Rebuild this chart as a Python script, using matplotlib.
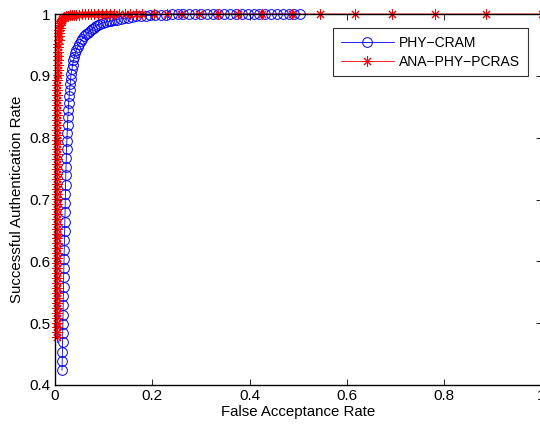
import matplotlib
matplotlib.use("Agg")
import matplotlib.pyplot as plt

plt.rcParams['font.family'] = ['Liberation Sans', 'DejaVu Sans']

# PHY-CRAM operating points (false acceptance rate, successful authentication rate)
cram_far = [0.0144, 0.0148, 0.0152, 0.0155, 0.0158, 0.0162, 0.0165, 0.0168, 0.0171, 0.0175,
            0.0178, 0.0182, 0.0186, 0.0190, 0.0194, 0.0198, 0.0202, 0.0206, 0.0210, 0.0214,
            0.0218, 0.0222, 0.0227, 0.0232, 0.0237, 0.0243, 0.0250, 0.0257, 0.0264, 0.0272,
            0.0280, 0.0290, 0.0300, 0.0310, 0.0320, 0.0330, 0.0350, 0.0360, 0.0380, 0.0400,
            0.0420, 0.0440, 0.0470, 0.0500, 0.0530, 0.0560, 0.0600, 0.0640, 0.0680, 0.0720,
            0.0760, 0.0800, 0.0840, 0.0880, 0.0930, 0.0980, 0.1040, 0.1100, 0.1160, 0.1220,
            0.1280, 0.1350, 0.1420, 0.1500, 0.1580, 0.1670, 0.1760, 0.1860, 0.1960, 0.2060,
            0.2170, 0.2280, 0.2400, 0.2520, 0.2640, 0.2760, 0.2880, 0.3000, 0.3120, 0.3240,
            0.3360, 0.3480, 0.3600, 0.3720, 0.3840, 0.3960, 0.4080, 0.4200, 0.4320, 0.4440,
            0.4560, 0.4680, 0.4800, 0.4920, 0.5040]
cram_sar = [0.424, 0.439, 0.454, 0.469, 0.484, 0.499, 0.514, 0.529, 0.544, 0.559,
            0.574, 0.589, 0.604, 0.619, 0.634, 0.649, 0.664, 0.679, 0.694, 0.709,
            0.724, 0.739, 0.753, 0.767, 0.781, 0.795, 0.808, 0.821, 0.833, 0.845,
            0.856, 0.867, 0.877, 0.886, 0.895, 0.903, 0.911, 0.918, 0.925, 0.931,
            0.937, 0.942, 0.947, 0.952, 0.956, 0.960, 0.964, 0.967, 0.970, 0.973,
            0.976, 0.978, 0.980, 0.982, 0.984, 0.986, 0.987, 0.988, 0.989, 0.990,
            0.991, 0.992, 0.993, 0.994, 0.995, 0.996, 0.997, 0.997, 0.998, 0.998,
            0.999, 0.999, 1.000, 1.000, 1.000, 1.000, 1.000, 1.000, 1.000, 1.000,
            1.000, 1.000, 1.000, 1.000, 1.000, 1.000, 1.000, 1.000, 1.000, 1.000,
            1.000, 1.000, 1.000, 1.000, 1.000]

# ANA-PHY-PCRAS operating points
pcras_far = [0.0035, 0.0035, 0.0035, 0.0035, 0.0035, 0.0035, 0.0035, 0.0035, 0.0036, 0.0036,
             0.0036, 0.0036, 0.0036, 0.0036, 0.0037, 0.0037, 0.0037, 0.0037, 0.0037, 0.0038,
             0.0038, 0.0038, 0.0038, 0.0038, 0.0039, 0.0039, 0.0039, 0.0039, 0.0040, 0.0040,
             0.0040, 0.0040, 0.0041, 0.0041, 0.0041, 0.0042, 0.0042, 0.0042, 0.0043, 0.0043,
             0.0043, 0.0044, 0.0044, 0.0045, 0.0045, 0.0046, 0.0046, 0.0047, 0.0047, 0.0048,
             0.0049, 0.0050, 0.0051, 0.0052, 0.0053, 0.0055, 0.0057, 0.0059, 0.0062, 0.0065,
             0.0068, 0.0072, 0.0076, 0.0081, 0.0087, 0.0094, 0.0102, 0.0112, 0.0124, 0.0138,
             0.0154, 0.0172, 0.0192, 0.0220, 0.0260, 0.0300, 0.0340, 0.0390, 0.0440, 0.0490,
             0.0550, 0.0610, 0.0670, 0.0740, 0.0810, 0.0880, 0.0960, 0.1040, 0.1130, 0.1220,
             0.1320, 0.1430, 0.1540, 0.1660, 0.1790, 0.2030, 0.2300, 0.2590, 0.2960, 0.3350,
             0.3760, 0.4250, 0.4870, 0.5450, 0.6170, 0.6930, 0.7810, 0.8850, 1.0000]
pcras_sar = [0.477, 0.485, 0.493, 0.501, 0.509, 0.517, 0.525, 0.533, 0.541, 0.549,
             0.557, 0.565, 0.573, 0.581, 0.589, 0.597, 0.605, 0.613, 0.621, 0.629,
             0.637, 0.645, 0.653, 0.661, 0.669, 0.677, 0.685, 0.693, 0.701, 0.709,
             0.717, 0.725, 0.733, 0.741, 0.749, 0.757, 0.765, 0.773, 0.781, 0.789,
             0.797, 0.805, 0.813, 0.821, 0.829, 0.837, 0.845, 0.853, 0.861, 0.869,
             0.877, 0.885, 0.893, 0.901, 0.909, 0.917, 0.925, 0.932, 0.939, 0.946,
             0.952, 0.958, 0.964, 0.969, 0.974, 0.978, 0.982, 0.985, 0.988, 0.990,
             0.992, 0.994, 0.995, 0.996, 0.997, 0.998, 0.998, 0.999, 0.999, 0.999,
             1.000, 1.000, 1.000, 1.000, 1.000, 1.000, 1.000, 1.000, 1.000, 1.000,
             1.000, 1.000, 1.000, 1.000, 1.000, 1.000, 1.000, 1.000, 1.000, 1.000,
             1.000, 1.000, 1.000, 1.000, 1.000, 1.000, 1.000, 1.000, 1.000]

series_labels = ['PHY\u2212CRAM', 'ANA\u2212PHY\u2212PCRAS']
x_ticks = [0, 0.2, 0.4, 0.6, 0.8, 1]
x_tick_labels = ['0', '0.2', '0.4', '0.6', '0.8', '1']
y_ticks = [0.4, 0.5, 0.6, 0.7, 0.8, 0.9, 1.0]
y_tick_labels = ['0.4', '0.5', '0.6', '0.7', '0.8', '0.9', '1']

fig = plt.figure(figsize=(5.40, 4.24), dpi=100)
ax = fig.add_axes([55 / 540, 39 / 424, 486.6 / 540, 371 / 424])

ax.plot(cram_far, cram_sar, '-', color='#0000ff', lw=0.6, marker='o', ms=7.0,
        mfc='none', mec='#0000ff', mew=0.7, label=series_labels[0], clip_on=False)
ax.plot(pcras_far, pcras_sar, '-', color='#ff0000', lw=0.6, marker=(8, 2, 0), ms=7.2,
        mec='#ff0000', mew=0.7, label=series_labels[1], clip_on=False)

ax.set_xlim(0, 1)
ax.set_ylim(0.4, 1)
ax.set_xticks(x_ticks)
ax.set_xticklabels(x_tick_labels)
ax.set_yticks(y_ticks)
ax.set_yticklabels(y_tick_labels)
ax.tick_params(direction='in', length=4, width=0.6, labelsize=11, top=True, right=True,
               colors='black')
ax.tick_params(axis='x', pad=3)
ax.tick_params(axis='y', pad=3)
for sp in ax.spines.values():
    sp.set_linewidth(1.0)

ax.set_xlabel('False Acceptance Rate', fontsize=10.8, labelpad=1)
ax.set_ylabel('Successful Authentication Rate', fontsize=10.8, labelpad=4)

leg = ax.legend(loc='upper right', bbox_to_anchor=((528 - 55) / 486.6, (385 - 28) / 371),
                borderaxespad=0, fontsize=10, frameon=True, fancybox=False,
                handlelength=3.8, handletextpad=0.4, borderpad=0.55, labelspacing=0.35)
leg.get_frame().set_edgecolor('black')
leg.get_frame().set_linewidth(0.8)

fig.savefig('out.png', dpi=100)
